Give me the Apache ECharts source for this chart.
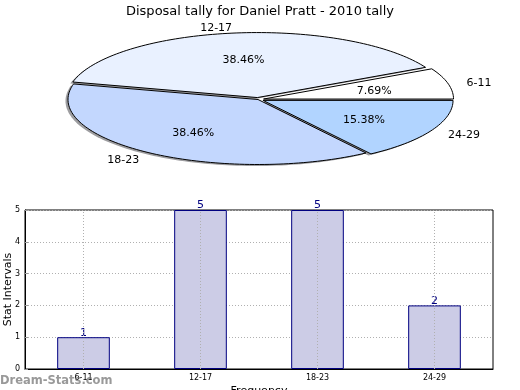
<!DOCTYPE html>
<html>
<head>
<meta charset="utf-8">
<script src="https://cdn.jsdelivr.net/npm/echarts@6/dist/echarts.min.js"></script>
<style>html,body{margin:0;padding:0;background:#fff}#c{width:520px;height:390px}</style>
</head>
<body>
<div id="c"></div>
<script>
const title = 'Disposal tally for Daniel Pratt - 2010 tally';
const categories = ['6-11', '12-17', '18-23', '24-29'];
const values = [1, 5, 5, 2];
const yTickMax = 5;
const yTickStep = 1;
const xName = 'Frequency';
const yName = 'Stat Intervals';
const watermark = 'Dream-Stats.com';

const pieColors = ['#ffffff', '#e9f1ff', '#c3d7fe', '#b1d4ff'];
const explode = [0.03, 0.03, 0.0, 0.03];
const PIE = {cx: 258, cy: 99.5, rx: 190, ry: 65};
const FONT = 'DejaVu Sans';

const total = values.reduce((a, b) => a + b, 0);
function geom(i) {
  let before = 0;
  for (let k = 0; k < i; k++) before += values[k];
  const a0 = before / total * Math.PI * 2;
  const a1 = (before + values[i]) / total * Math.PI * 2;
  const mid = (a0 + a1) / 2;
  const dx = explode[i] * PIE.rx * Math.cos(mid);
  const dy = -explode[i] * PIE.ry * Math.sin(mid);
  return {a0, a1, mid, ox: PIE.cx + dx, oy: PIE.cy + dy};
}
function wedgePoints(g, sx, sy) {
  const pts = [[g.ox + sx, g.oy + sy]];
  const n = Math.max(2, Math.ceil((g.a1 - g.a0) / (Math.PI / 120)));
  for (let k = 0; k <= n; k++) {
    const t = g.a0 + (g.a1 - g.a0) * k / n;
    pts.push([g.ox + sx + PIE.rx * Math.cos(t), g.oy + sy - PIE.ry * Math.sin(t)]);
  }
  return pts;
}

const chart = echarts.init(document.getElementById('c'), null, {renderer: 'canvas'});
chart.setOption({
  animation: false,
  backgroundColor: '#ffffff',
  title: {
    text: title, left: 'center', top: 0,
    textStyle: {fontFamily: FONT, fontSize: 13, fontWeight: 'normal', color: '#000'}
  },
  graphic: [{
    type: 'text', left: 0, top: 375, z: 100,
    style: {text: watermark, fontFamily: FONT, fontSize: 11.5, fontWeight: 'bold', fill: 'rgba(110,110,110,0.7)'}
  }],
  grid: {left: 25, top: 210, width: 468, height: 159, show: true, borderColor: '#000', borderWidth: 1,
         containLabel: false, outerBoundsMode: 'none'},
  xAxis: {
    type: 'category', data: categories,
    name: xName, nameLocation: 'middle', nameGap: 17, nameMoveOverlap: false,
    nameTextStyle: {fontFamily: FONT, fontSize: 11, color: '#000'},
    axisLine: {lineStyle: {color: '#000'}},
    axisTick: {show: true, alignWithLabel: true, inside: true, length: 3, lineStyle: {color: '#999'}},
    axisLabel: {fontFamily: FONT, fontSize: 8, color: '#000', margin: 5},
    splitLine: {show: false}
  },
  yAxis: {
    type: 'value', min: 0, max: yTickMax, interval: yTickStep,
    name: yName, nameLocation: 'middle', nameGap: 11, nameMoveOverlap: false,
    nameTextStyle: {fontFamily: FONT, fontSize: 11, color: '#000'},
    axisLine: {show: true, lineStyle: {color: '#000'}},
    axisTick: {show: true, inside: true, length: 3, lineStyle: {color: '#999'}},
    axisLabel: {fontFamily: FONT, fontSize: 8, color: '#000', margin: 5},
    splitLine: {show: true, lineStyle: {color: '#b0b0b0', type: [1, 2], width: 1}}
  },
  series: [
    {
      type: 'bar', data: values, barWidth: '45%',
      itemStyle: {color: '#ccccE6', borderColor: '#000080', borderWidth: 1},
      label: {show: true, position: 'top', distance: -1, fontFamily: FONT, fontSize: 11, color: '#000080'},
      markLine: {
        silent: true, symbol: 'none', label: {show: false},
        lineStyle: {color: '#b0b0b0', type: [1, 2], width: 1},
        data: categories.map(c => ({xAxis: c}))
      },
      z: 2
    },
    {
      type: 'custom', coordinateSystem: 'none', z: 1,
      data: values.map((v, i) => [v, i]),
      renderItem: function (params, api) {
        const i = params.dataIndex;
        const g = geom(i);
        return {
          type: 'polygon',
          shape: {points: wedgePoints(g, -2.5, 1.5)},
          style: {fill: 'rgba(60,60,65,0.5)', stroke: 'none'}
        };
      }
    },
    {
      type: 'custom', coordinateSystem: 'none', z: 3,
      data: values.map((v, i) => [v, i]),
      renderItem: function (params, api) {
        const i = params.dataIndex;
        const v = api.value(0);
        const g = geom(i);
        const c = Math.cos(g.mid), s = Math.sin(g.mid);
        return {
          type: 'group',
          children: [
            {
              type: 'polygon',
              shape: {points: wedgePoints(g, 0, 0)},
              style: {fill: pieColors[i], stroke: '#000', lineWidth: 1, lineJoin: 'miter'}
            },
            {
              type: 'text', z2: 10,
              style: {
                x: g.ox + 0.6 * PIE.rx * c, y: g.oy - 0.6 * PIE.ry * s + 1.5,
                text: (v / total * 100).toFixed(2) + '%',
                align: 'center', verticalAlign: 'middle',
                fontFamily: FONT, fontSize: 11, fill: '#000'
              }
            },
            {
              type: 'text', z2: 10,
              style: {
                x: g.ox + 1.1 * PIE.rx * c, y: g.oy - 1.1 * PIE.ry * s + 1.5,
                text: categories[i],
                align: c > 0 ? 'left' : 'right', verticalAlign: 'middle',
                fontFamily: FONT, fontSize: 11, fill: '#000'
              }
            }
          ]
        };
      }
    }
  ]
});
</script>
</body>
</html>
